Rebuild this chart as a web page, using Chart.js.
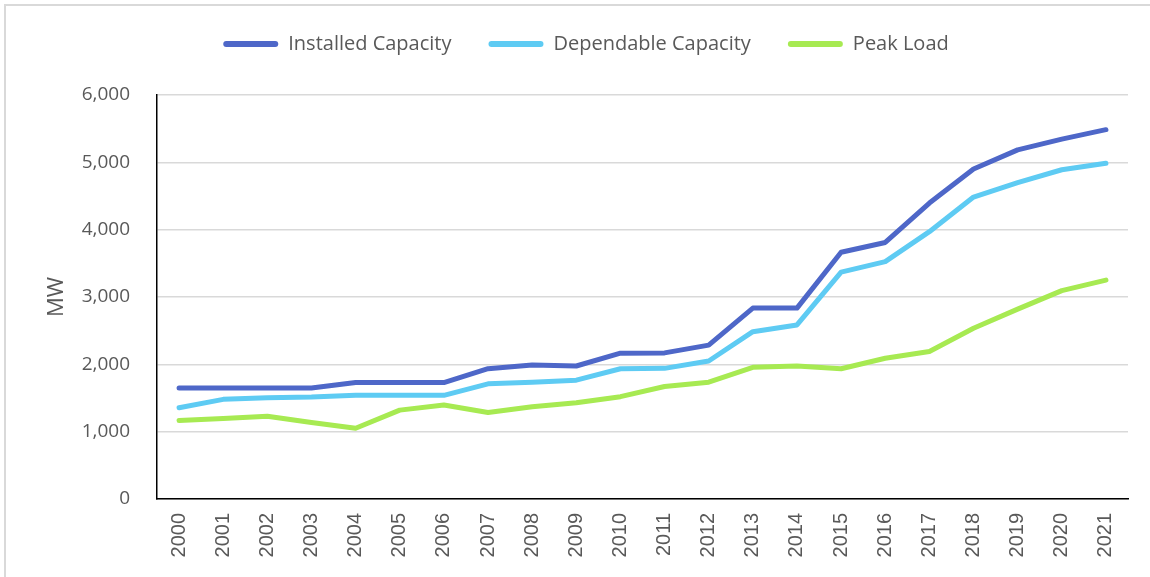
<!DOCTYPE html>
<html>
<head>
<meta charset="utf-8">
<script src="https://cdn.jsdelivr.net/npm/chart.js@4.4.1/dist/chart.umd.min.js"></script>
<style>
  html, body { margin: 0; padding: 0; background: #ffffff; overflow: hidden; }
  #wrap { position: relative; width: 1150px; height: 577px; overflow: hidden; }
  #frame { position: absolute; left: 4px; top: 4px; width: 1200px; height: 620px;
           border-left: 2px solid #d9d9d9; border-top: 2px solid #d9d9d9; pointer-events: none; }
  canvas { position: absolute; left: 0; top: 0; }
</style>
</head>
<body>
<div id="wrap">
  <canvas id="chart" width="1150" height="577"></canvas>
  <div id="frame"></div>
</div>
<script>
// Years on the category axis
const years = ['2000','2001','2002','2003','2004','2005','2006','2007','2008','2009','2010',
               '2011','2012','2013','2014','2015','2016','2017','2018','2019','2020','2021'];

// Capacity and load in MW
const installedCapacity = [1650,1650,1650,1650,1730,1730,1730,1935,1990,1975,2165,
                           2170,2285,2835,2835,3665,3810,4395,4900,5185,5345,5485];
const dependableCapacity = [1355,1480,1505,1515,1540,1540,1540,1710,1735,1765,1935,
                            1940,2050,2485,2585,3370,3525,3970,4485,4700,4890,4985];
const peakLoad = [1165,1195,1230,1135,1050,1320,1395,1285,1370,1430,1520,
                  1670,1735,1955,1975,1935,2090,2190,2535,2820,3095,3250];

// Value axis ticks
const yMin = 0, yMax = 6000, yStep = 1000;

const seriesNames = ['Installed Capacity', 'Dependable Capacity', 'Peak Load'];
const seriesColors = ['#4e67c8', '#5ecbf3', '#a7ea52'];
const seriesValues = [installedCapacity, dependableCapacity, peakLoad];

const textColor = '#595959';
const uiFont = 'Open Sans';

const datasets = seriesValues.map((vals, i) => ({
  label: seriesNames[i],
  data: vals,
  borderColor: seriesColors[i],
  backgroundColor: seriesColors[i],
  borderWidth: 5,
  borderCapStyle: 'round',
  borderJoinStyle: 'round',
  pointRadius: 0,
  pointHoverRadius: 0,
  tension: 0,
  fill: false
}));

// Reserve a fixed band for the legend above the plot
const legendBand = {
  id: 'legendBand',
  beforeInit(chart) {
    const legend = chart.legend;
    if (!legend) return;
    const fit = legend.fit;
    legend.fit = function () {
      fit.call(this);
      this.height = 98;
    };
  }
};

new Chart(document.getElementById('chart'), {
  type: 'line',
  data: { labels: years, datasets: datasets },
  plugins: [legendBand],
  options: {
    responsive: false,
    animation: false,
    devicePixelRatio: 1,
    layout: { padding: { left: 44, right: 22, top: -3, bottom: 0 } },
    plugins: {
      tooltip: { enabled: false },
      legend: {
        position: 'top',
        labels: {
          color: textColor,
          font: { family: uiFont, size: 20 },
          boxWidth: 55,
          boxHeight: 6,
          useBorderRadius: true,
          borderRadius: 3,
          padding: 37,
          generateLabels(chart) {
            const items = Chart.defaults.plugins.legend.labels.generateLabels(chart);
            items.forEach(it => { it.lineWidth = 0; });
            return items;
          }
        }
      }
    },
    scales: {
      x: {
        offset: true,
        grid: { display: false, drawTicks: false },
        border: { display: true, color: '#000000', width: 1.5 },
        ticks: {
          color: textColor,
          font: { family: 'Liberation Sans', size: 20 },
          minRotation: 90,
          maxRotation: 90,
          autoSkip: false,
          padding: 14
        },
        afterFit(scale) { scale.height = 78; }
      },
      y: {
        min: yMin,
        max: yMax,
        grid: { color: '#d9d9d9', lineWidth: 1.5, drawTicks: false },
        border: { display: true, color: '#000000', width: 1.5 },
        ticks: {
          stepSize: yStep,
          color: textColor,
          font: { family: uiFont, size: 19 },
          padding: 27,
          callback: v => v.toLocaleString('en-US')
        },
        title: {
          display: true,
          text: 'MW',
          color: textColor,
          font: { family: uiFont, size: 22 },
          padding: { top: 0, bottom: 0 }
        },
        afterFit(scale) { scale.width = 113; }
      }
    }
  }
});
</script>
</body>
</html>
